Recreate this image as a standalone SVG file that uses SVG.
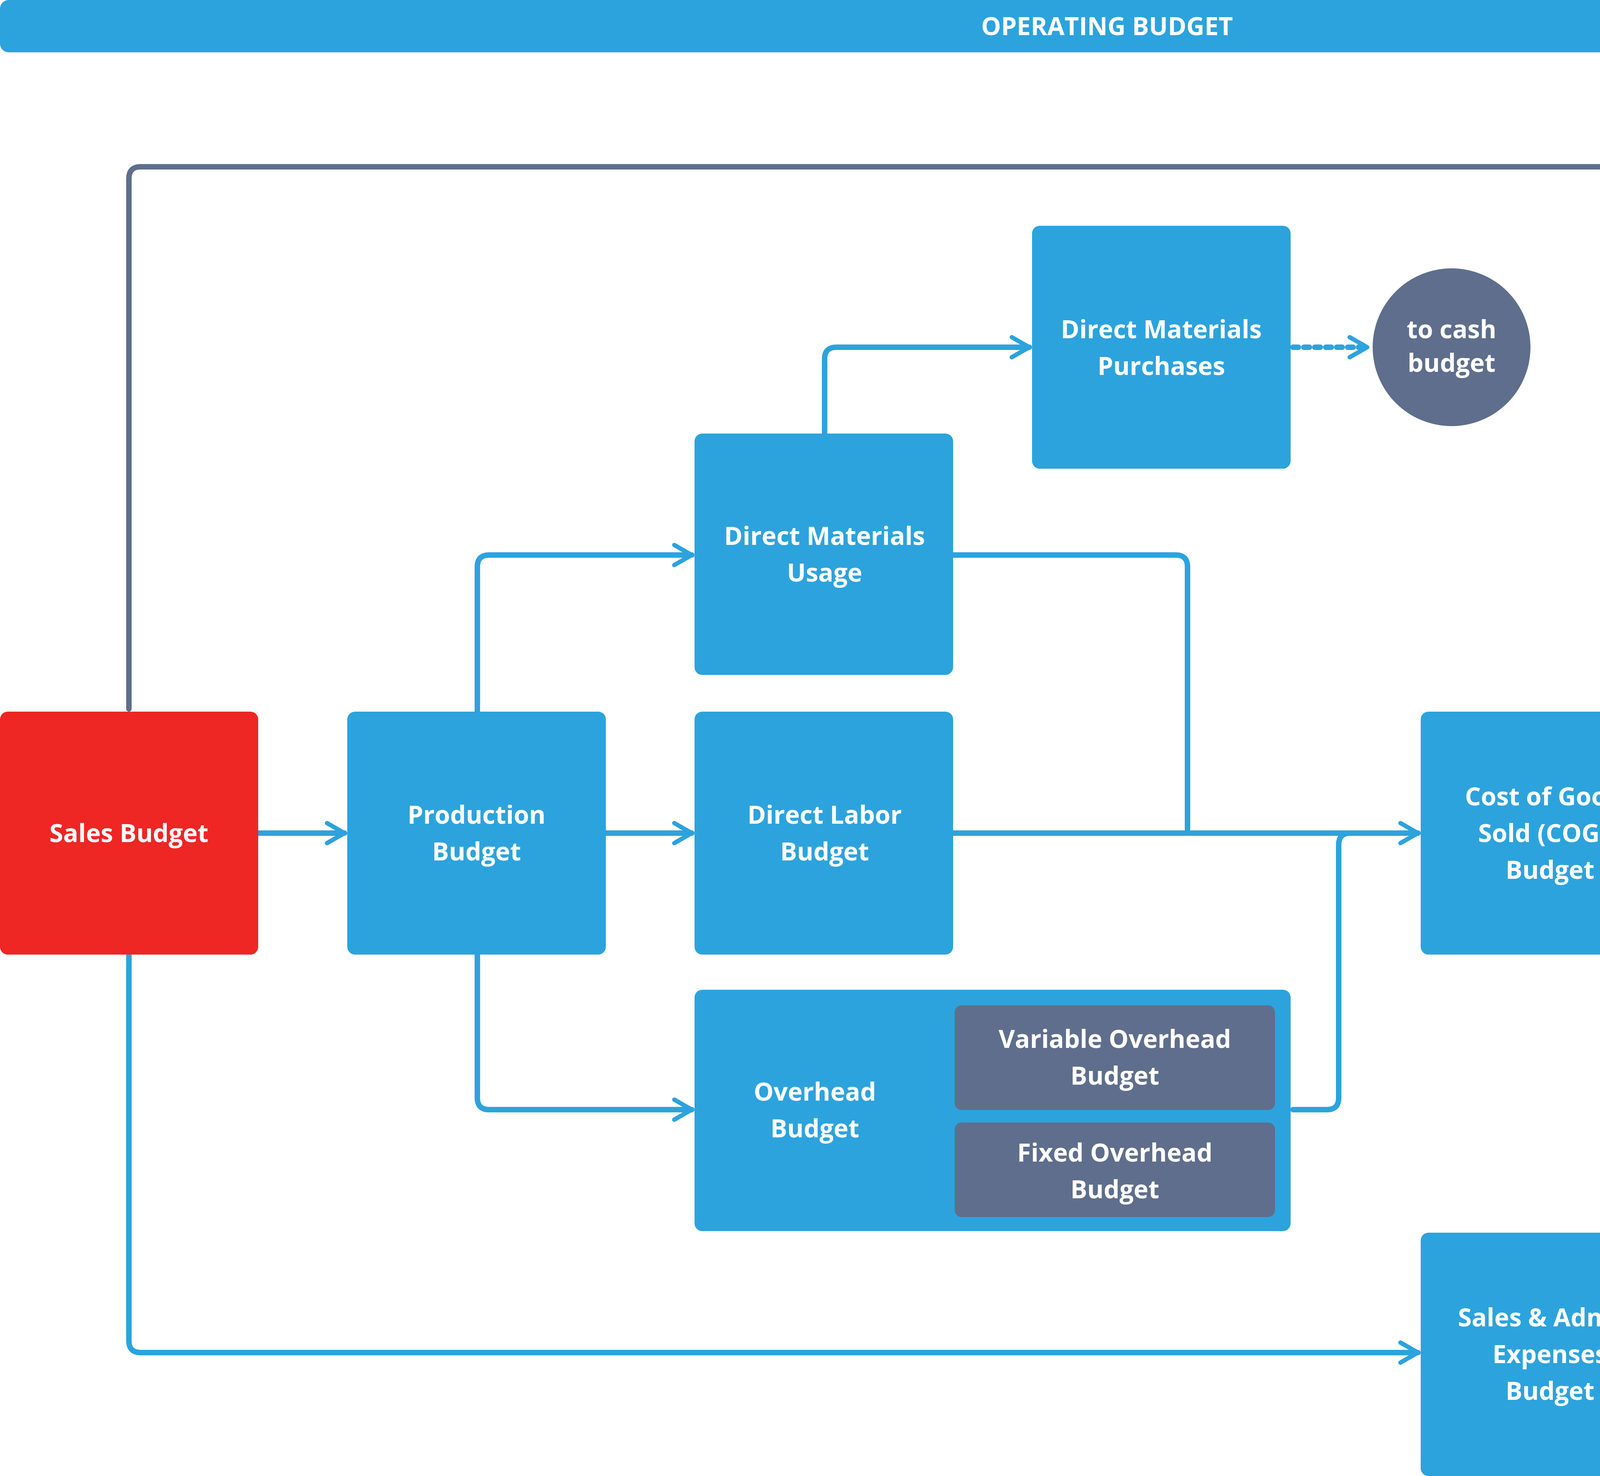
<svg xmlns="http://www.w3.org/2000/svg" width="5668" height="3779" viewBox="0 0 5668 3779">
<style>
.b{fill:#2CA3DD}.g{fill:#5F6E8C}.r{fill:#EE2624}
text{font-family:"Open Sans","Liberation Sans",sans-serif;font-weight:700;fill:#fff;font-size:64px;text-anchor:middle}
.lb{fill:none;stroke:#2CA3DD;stroke-width:14;stroke-linejoin:round;stroke-linecap:round}
.lg{fill:none;stroke:#5F6E8C;stroke-width:14;stroke-linejoin:round;stroke-linecap:round}
</style>
<defs>
<marker id="ab" viewBox="0 0 20 20" refX="18" refY="10" markerWidth="64" markerHeight="64" markerUnits="userSpaceOnUse" orient="auto"><path d="M4,2 L18,10 L4,18" fill="none" stroke="#2CA3DD" stroke-width="3.5" stroke-linecap="round" stroke-linejoin="round"/></marker>
<marker id="ag" viewBox="0 0 20 20" refX="18" refY="10" markerWidth="64" markerHeight="64" markerUnits="userSpaceOnUse" orient="auto"><path d="M4,2 L18,10 L4,18" fill="none" stroke="#5F6E8C" stroke-width="3.5" stroke-linecap="round" stroke-linejoin="round"/></marker>
</defs>
<rect width="5668" height="3779" fill="#fff"/>
<g id="title"><rect x="0" y="0" width="5668" height="134" rx="22" class="b"/><text x="2834" y="90" font-size="72">OPERATING BUDGET</text></g>
<g id="connectors">
<path class="lg" d="M330,1815 V457 Q330,427 360,427 H5306 Q5336,427 5336,457 V1815" marker-end="url(#ag)"/>
<path class="lg" d="M4299,2133 H5000" marker-end="url(#ag)"/>
<path class="lg" d="M4299,3463 H5306 Q5336,3463 5336,3433 V2451" marker-end="url(#ag)"/>
<path class="lb" d="M661,2133 H882" marker-end="url(#ab)"/>
<path class="lb" d="M1551,2133 H1771" marker-end="url(#ab)"/>
<path class="lb" d="M1222,1822 V1451 Q1222,1421 1252,1421 H1771" marker-end="url(#ab)"/>
<path class="lb" d="M2111,1110 V919 Q2111,889 2141,889 H2635" marker-end="url(#ab)"/>
<path class="lb" d="M3310,889 H3500" stroke-dasharray="14,14" stroke-linecap="butt" marker-end="url(#ab)"/>
<path class="lb" d="M2440,1421 H3010 Q3040,1421 3040,1451 V2133"/>
<path class="lb" d="M2440,2133 H3630" marker-end="url(#ab)"/>
<path class="lb" d="M3310,2841 H3397 Q3427,2841 3427,2811 V2163 Q3427,2133 3457,2133 H3630"/>
<path class="lb" d="M1222,2444 V2811 Q1222,2841 1252,2841 H1771" marker-end="url(#ab)"/>
<path class="lb" d="M330,2444 V3433 Q330,3463 360,3463 H3630" marker-end="url(#ab)"/>
</g>
<g id="sales"><rect x="0" y="1822" width="661" height="622" rx="20" class="r"/><text x="330" y="2156">Sales Budget</text></g>
<g id="production"><rect x="889" y="1822" width="662" height="622" rx="20" class="b"/><text x="1220" y="2109">Production</text><text x="1220" y="2203">Budget</text></g>
<g id="dmu"><rect x="1778" y="1110" width="662" height="618" rx="20" class="b"/><text x="2111" y="1395">Direct Materials</text><text x="2111" y="1489">Usage</text></g>
<g id="dl"><rect x="1778" y="1822" width="662" height="622" rx="20" class="b"/><text x="2111" y="2109">Direct Labor</text><text x="2111" y="2203">Budget</text></g>
<g id="dmp"><rect x="2642" y="578" width="662" height="622" rx="20" class="b"/><text x="2973" y="866">Direct Materials</text><text x="2973" y="960">Purchases</text></g>
<g id="cash"><circle cx="3716" cy="889" r="202" class="g"/><text x="3716" y="866" font-size="58">to cash</text><text x="3716" y="952" font-size="58">budget</text></g>
<g id="overhead"><rect x="1778" y="2534" width="1526" height="618" rx="20" class="b"/><text x="2086" y="2818">Overhead</text><text x="2086" y="2912">Budget</text>
<rect x="2444" y="2574" width="820" height="268" rx="18" class="g"/><text x="2854" y="2683">Variable Overhead</text><text x="2854" y="2777">Budget</text>
<rect x="2444" y="2874" width="820" height="242" rx="18" class="g"/><text x="2854" y="2974">Fixed Overhead</text><text x="2854" y="3068">Budget</text></g>
<g id="cogs"><rect x="3637" y="1822" width="662" height="622" rx="20" class="b"/><text x="3968" y="2062">Cost of Goods</text><text x="3968" y="2156">Sold (COGS)</text><text x="3968" y="2250">Budget</text></g>
<g id="bis"><rect x="5007" y="1822" width="661" height="622" rx="20" class="g"/><text x="5337" y="2062">BUDGETED</text><text x="5337" y="2156">INCOME</text><text x="5337" y="2250">STATEMENT</text></g>
<g id="sa"><rect x="3637" y="3156" width="662" height="623" rx="20" class="b"/><text x="3968" y="3396">Sales &amp; Admin.</text><text x="3968" y="3490">Expenses</text><text x="3968" y="3584">Budget</text></g>
</svg>
